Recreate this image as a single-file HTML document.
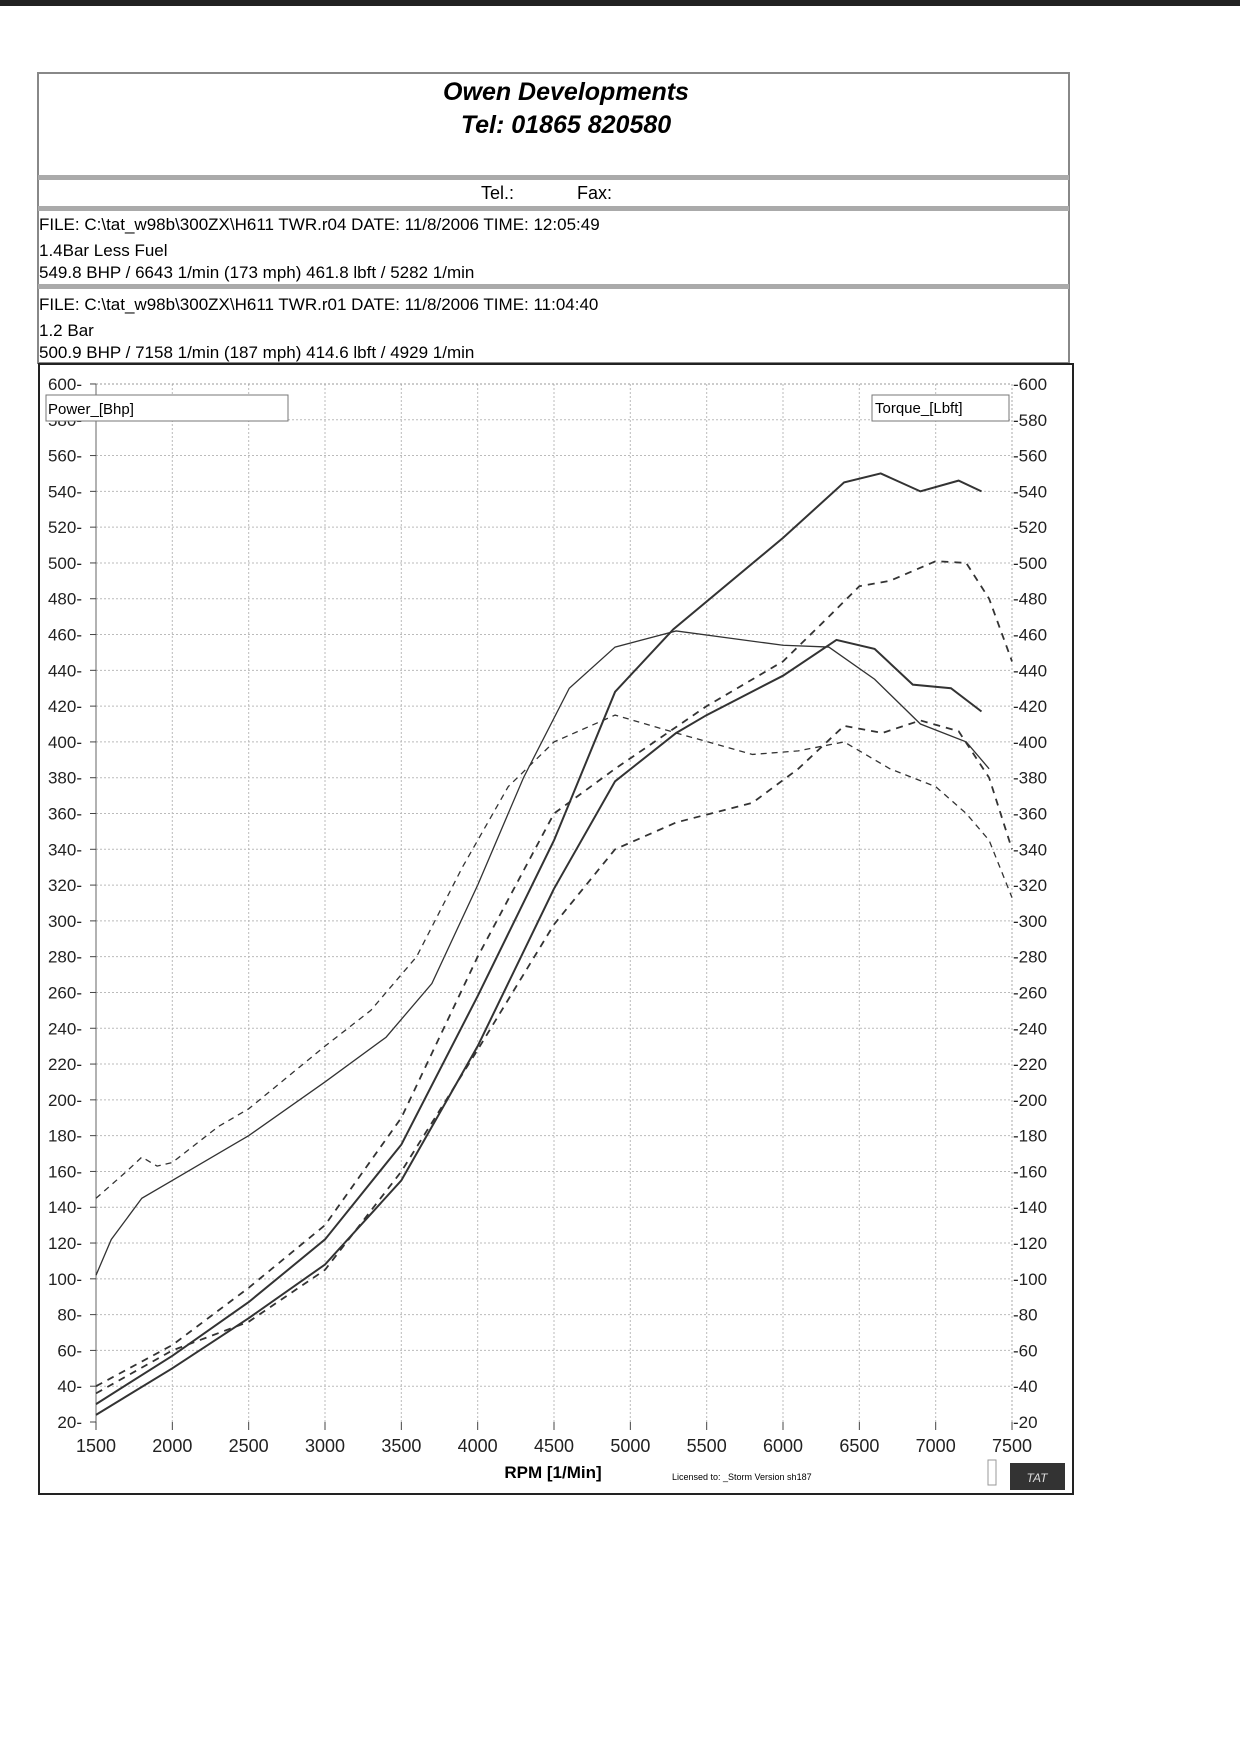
<!DOCTYPE html>
<html><head><meta charset="utf-8"><style>
body{margin:0;background:#fff;width:1240px;height:1751px;overflow:hidden;font-family:"Liberation Sans",sans-serif;}
</style></head><body>
<svg width="1240" height="1751" xmlns="http://www.w3.org/2000/svg" font-family="Liberation Sans, sans-serif">
<rect x="0" y="0" width="1240" height="6" fill="#222"/>
<!-- header box -->
<rect x="38" y="73" width="1031" height="290" fill="none" stroke="#888" stroke-width="2"/>
<text x="566" y="100" text-anchor="middle" font-size="25" font-weight="bold" font-style="italic">Owen Developments</text>
<text x="566" y="133" text-anchor="middle" font-size="25" font-weight="bold" font-style="italic">Tel: 01865 820580</text>
<rect x="38" y="175" width="1031" height="5" fill="#aaa"/>
<text x="481" y="199" font-size="18">Tel.:</text>
<text x="577" y="199" font-size="18">Fax:</text>
<rect x="38" y="206" width="1031" height="5" fill="#aaa"/>
<g font-size="17">
<text x="39" y="230">FILE: C:\tat_w98b\300ZX\H611 TWR.r04  DATE: 11/8/2006  TIME: 12:05:49</text>
<text x="39" y="256">1.4Bar  Less Fuel</text>
<text x="39" y="278">549.8 BHP / 6643 1/min (173 mph)    461.8 lbft / 5282 1/min</text>
</g>
<rect x="38" y="284" width="1031" height="5" fill="#aaa"/>
<g font-size="17">
<text x="39" y="310">FILE: C:\tat_w98b\300ZX\H611 TWR.r01  DATE: 11/8/2006  TIME: 11:04:40</text>
<text x="39" y="336">1.2 Bar</text>
<text x="39" y="358">500.9 BHP / 7158 1/min (187 mph)    414.6 lbft / 4929 1/min</text>
</g>
<!-- chart box -->
<rect x="39" y="364" width="1034" height="1130" fill="none" stroke="#222" stroke-width="2"/>
<g id="grid" stroke="#bbb" stroke-width="1" stroke-dasharray="2,2">
<line x1="172.3" y1="384" x2="172.3" y2="1422"/><line x1="248.7" y1="384" x2="248.7" y2="1422"/><line x1="325" y1="384" x2="325" y2="1422"/><line x1="401.3" y1="384" x2="401.3" y2="1422"/><line x1="477.7" y1="384" x2="477.7" y2="1422"/><line x1="554" y1="384" x2="554" y2="1422"/><line x1="630.3" y1="384" x2="630.3" y2="1422"/><line x1="706.7" y1="384" x2="706.7" y2="1422"/><line x1="783" y1="384" x2="783" y2="1422"/><line x1="859.3" y1="384" x2="859.3" y2="1422"/><line x1="935.7" y1="384" x2="935.7" y2="1422"/>
</g>
<g stroke="#bbb" stroke-dasharray="2,2" id="hg"></g>
<line x1="96" y1="384" x2="96" y2="1422" stroke="#666"/>
<line x1="1012" y1="384" x2="1012" y2="1422" stroke="#aaa" stroke-dasharray="2,2"/>
<g id="ylab" font-size="17" fill="#222"></g>
<g id="xlab" font-size="18" fill="#222"></g>
<rect x="46" y="395" width="242" height="26" fill="#fff" stroke="#777"/>
<text x="48" y="414" font-size="15">Power_[Bhp]</text>
<rect x="872" y="395" width="137" height="26" fill="#fff" stroke="#777"/>
<text x="875" y="413" font-size="15">Torque_[Lbft]</text>
<g transform="matrix(0.15267 0 0 -1.7897 -133 1457.8)" fill="none" stroke="#333" stroke-width="1.8" id="curves"></g>
<text x="553" y="1478" text-anchor="middle" font-size="17" font-weight="bold">RPM  [1/Min]</text>
<text x="672" y="1480" font-size="9">Licensed to: _Storm   Version sh187</text>
<rect x="988" y="1460" width="8" height="25" fill="none" stroke="#999"/>
<rect x="1010" y="1463" width="55" height="27" fill="#333"/>
<text x="1037" y="1482" text-anchor="middle" font-size="12" fill="#ddd" font-style="italic">TAT</text>
</svg>
<script>
var NS="http://www.w3.org/2000/svg";
function el(p,t,a,txt){var e=document.createElementNS(NS,t);for(var k in a)e.setAttribute(k,a[k]);if(txt)e.textContent=txt;p.appendChild(e);return e;}
var hg=document.getElementById('hg'),yl=document.getElementById('ylab'),xl=document.getElementById('xlab');
for(var v=20;v<=600;v+=20){var y=1422-(v-20)*1.7897;
 if(v>20&&v<600)el(hg,'line',{x1:96,y1:y,x2:1012,y2:y});
 if(v==600)el(hg,'line',{x1:96,y1:y,x2:1012,y2:y,'stroke':'#999'});
 el(yl,'text',{x:82,y:y+6,'text-anchor':'end'},v+'-');
 el(yl,'text',{x:1013,y:y+6},'-'+v);
 el(yl,'line',{x1:90,y1:y,x2:96,y2:y,stroke:'#444'});
}
for(var r=1500;r<=7500;r+=500){var x=96+(r-1500)*0.15267;el(xl,'text',{x:x,y:1452,'text-anchor':'middle'},r);el(xl,'line',{x1:x,y1:1422,x2:x,y2:1430,stroke:'#444'});}
var C=document.getElementById('curves');
function P(d,dash,w){var s='M'+d.map(function(p){return p[0]+','+p[1]}).join('L');var a={d:s,'vector-effect':'non-scaling-stroke'};if(dash)a['stroke-dasharray']=dash;if(w)a['stroke-width']=w;el(C,'path',a);}
P([[1500,30],[2000,57],[2500,87],[3000,122],[3500,175],[4000,258],[4500,345],[4900,428],[5282,463],[6000,514],[6400,545],[6640,550],[6900,540],[7150,546],[7300,540]],null,2);
P([[1500,24],[2000,50],[2500,78],[3000,108],[3500,155],[4000,230],[4500,318],[4900,378],[5300,405],[5500,415],[6000,437],[6350,457],[6600,452],[6850,432],[7100,430],[7300,417]],null,2);
P([[1500,40],[2000,63],[2500,95],[3000,130],[3500,190],[4000,280],[4500,360],[4900,385],[5500,420],[6000,445],[6300,470],[6500,487],[6700,490],[7000,501],[7200,500],[7350,480],[7500,445]],'7,6',1.8);
P([[1500,36],[2000,60],[2500,76],[3000,105],[3500,160],[4000,228],[4500,298],[4900,340],[5300,355],[5800,366],[6100,385],[6400,409],[6650,405],[6900,412],[7150,406],[7350,380],[7500,340]],'7,6',1.8);
P([[1500,102],[1600,122],[1800,145],[2000,155],[2300,170],[2500,180],[3000,210],[3400,235],[3700,265],[4000,320],[4300,380],[4600,430],[4900,453],[5300,462],[6000,454],[6300,453],[6600,435],[6900,410],[7200,400],[7350,385]],null,1.3);
P([[1500,145],[1700,160],[1800,168],[1900,163],[2000,165],[2300,185],[2500,195],[3000,230],[3300,250],[3600,280],[3900,330],[4200,375],[4500,400],[4900,415],[5300,405],[5800,393],[6100,395],[6400,400],[6700,385],[7000,375],[7200,360],[7350,345],[7500,313]],'6,5',1.3);
</script>
</body></html>
